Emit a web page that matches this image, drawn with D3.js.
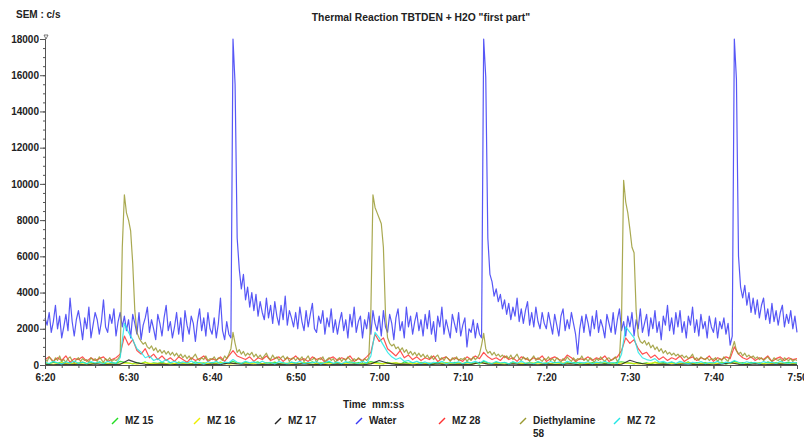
<!DOCTYPE html>
<html><head><meta charset="utf-8">
<script src="https://cdn.jsdelivr.net/npm/d3@7/dist/d3.min.js"></script>
<style>
body{margin:0;background:#fff}
svg{display:block}
text{font-family:"Liberation Sans",Arial,sans-serif;font-weight:bold;fill:#222}
</style></head>
<body><svg id="chart" width="804" height="438"></svg>
<script>
// time range in seconds (6:20 .. 7:50)
const tStart = 380, tEnd = 470;
const xTickValues = [380, 390, 400, 410, 420, 430, 440, 450, 460, 470];
const yTickValues = [0, 2000, 4000, 6000, 8000, 10000, 12000, 14000, 16000, 18000];
const seriesNames = ["MZ 15", "MZ 16", "MZ 17", "Water", "MZ 28", "Diethylamine\n58", "MZ 72"];

// SEM c/s, sampled evenly over the time range
const water = [
2600,2200,2900,1800,2400,3300,2000,2700,1500,2100,2800,1900,3700,2400,1600,2500,3000,2300,1400,2600,
2000,3200,1500,2200,2900,2500,1700,2400,3600,2100,1800,2800,2300,3100,1600,2400,2900,2100,2700,1900,
2500,1500,2800,2300,1700,2900,1400,2200,2600,3200,1800,2500,2000,1400,2800,2300,1600,2600,3300,1900,
2400,1500,2100,2900,1700,2600,1300,3000,2200,1700,2700,2300,1300,2400,3100,1900,2600,1600,2900,2000,
1700,2600,1500,2300,3700,1900,1400,2400,1700,1500,18000,15500,7000,5300,4200,5000,3600,4300,3200,4000,
3000,3900,2700,3500,2900,2500,3700,2600,3300,2300,3500,2700,2200,3300,2500,3800,2200,3000,2600,2100,
2900,2000,3200,2400,1900,3000,2100,2800,3400,2000,1800,2700,2300,3000,1700,2600,2100,3100,1800,2500,
1700,2400,2900,1900,2500,1500,2800,2100,3200,1800,2400,2700,1500,2500,2000,2900,1700,3000,2300,1900,
2700,1600,3000,2100,1800,2800,2300,1400,2600,3100,1900,2400,1500,3200,2100,2700,1700,2400,2900,1900,
2500,1600,2800,2000,3000,1700,2400,1300,2700,2100,3200,1700,2500,2000,1500,2800,2300,1800,2900,1600,
2200,2600,1000,2000,1800,2500,1500,2300,1700,1500,18000,15900,7000,5000,4600,3800,4200,3500,3900,3100,
3600,2800,3400,2500,3200,2700,3700,2400,3100,2300,3000,3500,2200,2900,2100,3200,2400,2000,2900,2300,
2000,2900,2300,1700,2800,2200,1600,2700,3100,1900,2500,2000,2900,2300,1700,600,2000,2700,1800,2800,
2300,1600,2700,2000,3000,1800,2500,2100,1500,2800,2300,1800,2900,1700,2500,3100,1900,2400,1600,2700,
2100,2900,1600,2500,2000,3100,1800,2300,2800,1600,2600,2000,3000,1800,2400,1400,2700,2200,3300,1900,
2600,1700,2900,2100,3000,1800,2400,1500,2700,2200,3200,1800,2500,1600,2800,2000,2400,1500,2700,2100,
1800,2600,1500,2400,2000,2600,1700,2300,1100,1600,18000,15800,6000,4300,3700,4400,3300,4000,2900,3700,
2800,3600,2600,3300,3700,2500,3100,2300,3400,2400,3000,2200,2900,3300,2100,2800,2300,3000,2000,2700,
1800];

const diethylamine = [
350,200,450,300,150,400,250,500,200,300,150,350,450,250,100,300,400,200,350,250,
300,150,400,250,350,200,450,300,150,350,250,400,200,300,250,350,500,6500,9400,8400,
8000,7400,5600,3000,1800,1500,1300,1150,1250,1000,900,1050,800,950,700,850,650,800,600,750,
550,700,500,650,450,600,400,550,350,500,300,450,600,350,250,400,300,500,250,350,
300,450,250,400,350,250,500,350,600,900,1800,1200,700,850,600,750,500,650,550,700,
450,600,400,550,350,500,650,400,300,550,350,450,250,400,500,300,450,200,350,400,
250,400,300,450,200,350,500,250,300,400,150,350,300,450,200,300,400,250,350,150,
300,400,200,350,250,450,300,200,350,250,400,300,150,350,250,400,3000,9400,8700,8400,
8100,7800,6500,2800,1500,1200,1050,1150,900,1000,800,950,700,850,600,750,550,700,500,650,
450,600,400,550,350,500,300,450,550,300,400,250,450,350,200,400,300,450,250,350,
300,400,200,350,250,450,300,400,600,1100,1750,900,650,750,550,700,500,600,450,550,
400,500,350,550,300,450,600,350,250,450,300,400,200,350,500,250,400,300,200,350,
300,450,250,350,200,400,300,150,350,250,450,300,200,400,250,350,300,500,250,350,
200,400,300,150,350,250,450,300,200,350,400,250,300,450,200,350,2500,10200,9000,8400,
7500,6500,6200,3000,1600,1300,1200,1350,1100,1250,950,1100,850,1000,750,900,650,800,600,700,
550,650,500,600,450,550,400,500,350,450,600,300,400,250,450,350,300,400,250,350,
300,400,200,350,250,450,300,200,500,900,1300,800,600,700,500,650,450,550,400,500,
350,450,300,400,250,350,450,300,200,400,300,250,350,200,400,300,250,350,200,300,
250];

const mz28 = [
300,450,200,400,250,500,150,350,300,450,
200,400,250,350,450,200,300,400,600,1600,
1100,1400,800,600,900,400,600,300,500,250,
400,200,450,300,150,400,250,350,500,200,
350,250,450,200,500,800,500,400,300,450,
200,400,300,500,250,350,450,200,400,300,
500,250,350,200,450,300,400,150,350,450,
250,400,300,500,200,350,250,450,700,1700,
1300,1500,900,700,500,800,400,550,300,450,
250,400,300,500,200,350,450,250,400,300,
200,450,300,500,350,700,450,300,400,250,
500,300,400,200,450,350,250,400,300,500,
200,350,450,300,250,550,400,200,350,300,
450,250,400,300,500,200,350,450,800,1500,
1200,1400,900,600,700,400,550,300,450,250,
400,300,500,200,350,450,250,400,300,500,
200,400,300,450,350,1000,600,400,300,450,
250,400,300,500,200,350,450,250,400,300,
350];

const mz72 = [
150,80,200,120,60,180,100,220,90,150,
70,190,110,160,80,200,130,90,400,2300,
1800,1400,900,700,400,500,250,350,150,300,
120,200,80,170,100,220,90,150,60,180,
110,200,70,160,130,300,150,90,200,120,
170,80,210,100,150,60,190,120,80,160,
100,200,70,150,120,180,60,140,210,90,
160,70,190,110,140,80,200,100,500,1800,
1500,1100,700,450,300,400,200,250,120,200,
90,170,60,150,110,200,80,140,100,180,
70,160,120,200,90,250,140,80,190,110,
150,60,180,100,220,90,140,70,170,120,
80,190,110,160,60,200,130,90,150,100,
180,70,160,110,200,90,140,80,600,2100,
1800,1500,700,400,300,250,350,150,200,100,
170,80,200,120,60,150,100,190,80,140,
110,200,70,160,120,250,150,90,180,100,
140,70,190,110,160,80,200,120,90,150,
100];

const mz15 = [
120,60,150,90,180,70,130,40,110,160,
80,140,60,170,100,50,130,90,200,150,
110,60,140,80,170,50,120,90,150,70,
130,40,160,90,110,60,180,80,120,50,
140,90,160,70,120,200,100,60,150,80,
110,170,50,130,90,160,70,120,40,150,
100,60,140,80,180,50,120,90,160,70,
130,50,110,170,80,140,60,120,190,140,
100,60,150,80,120,40,170,90,130,60,
150,80,110,50,160,90,130,70,140,100,
60,170,80,120,50,200,110,70,150,90,
130,50,160,80,110,60,140,90,170,70,
120,40,150,100,60,130,80,170,90,110,
50,140,80,160,70,120,90,150,180,130,
100,60,140,80,120,50,160,90,130,70,
150,60,110,80,170,40,130,90,140,60,
120,80,160,50,110,200,90,130,70,150,
80,120,60,170,90,140,50,110,160,70,
120];

const mz16 = [
80,40,120,60,100,30,90,140,50,70,
110,40,130,60,90,50,120,80,40,100,
70,130,50,90,110,60,80,140,40,100,
70,120,50,90,60,110,80,130,40,100,
60,90,120,50,80,110,40,70,130,60,
90,50,120,80,100,40,110,70,130,60,
90,50,120,80,40,100,70,140,50,90,
110,60,80,130,40,100,70,120,50,90,
60,110,80,130,40,100,60,90,120,50,
80];

const mz17 = [
30,10,50,20,40,10,60,20,30,40,
280,120,40,20,50,10,30,20,40,10,
50,20,120,60,30,10,40,20,50,10,
30,60,20,40,10,50,20,30,10,60,
250,100,30,50,10,40,20,60,10,30,
40,20,150,50,30,10,60,20,40,10,
50,20,30,60,10,40,20,50,10,40,
260,110,40,20,50,10,30,60,20,40,
10,50,130,40,20,60,10,30,50,20,
30];

const seriesValues = [mz15, mz16, mz17, water, mz28, diethylamine, mz72];
const seriesColors = ["#22dd22", "#eeee00", "#222222", "#3a3af5", "#ff3232", "#9a9a32", "#22e6e6"];

const svg = d3.select("#chart");
const margin = {left: 45, right: 7, top: 39, bottom: 73};
const W = 804, H = 438;
const x = d3.scaleLinear().domain([tStart, tEnd]).range([margin.left, W - margin.right]);
const y = d3.scaleLinear().domain([0, 18000]).range([H - margin.bottom, margin.top]);

const fmtTime = t => Math.floor(t / 60) + ":" + String(Math.round(t % 60)).padStart(2, "0");

// series lines
seriesValues.forEach((vals, k) => {
  const n = vals.length;
  const line = d3.line()
    .x((d, i) => x(tStart + i * (tEnd - tStart) / (n - 1)))
    .y(d => y(d));
  svg.append("path")
    .datum(vals)
    .attr("d", line)
    .attr("fill", "none")
    .attr("stroke", seriesColors[k])
    .attr("stroke-width", 1.2)
    .attr("stroke-opacity", 0.85)
    .attr("stroke-linejoin", "round");
});

// axes
const axisColor = "#555";
const gy = svg.append("g").attr("transform", `translate(${margin.left},0)`);
gy.call(d3.axisLeft(y).tickValues(d3.range(0, 18001, 500)).tickSize(2).tickFormat(""));
gy.call(g => g.append("g").call(d3.axisLeft(y).tickValues(yTickValues).tickSize(5).tickFormat(d3.format("d"))));
gy.selectAll("path.domain").attr("stroke", axisColor);
gy.selectAll("line").attr("stroke", axisColor);
gy.selectAll("text").attr("font-size", 10).attr("x", -6).style("font-family", '"Liberation Sans",Arial,sans-serif').style("font-weight", "bold").attr("fill", "#222");

const gx = svg.append("g").attr("transform", `translate(0,${H - margin.bottom})`);
gx.call(d3.axisBottom(x).tickValues(d3.range(tStart, tEnd + 0.1, 2)).tickSize(3).tickFormat(""));
gx.call(g => g.append("g").call(d3.axisBottom(x).tickValues(xTickValues).tickSize(4).tickFormat(fmtTime)));
gx.selectAll("path.domain").attr("stroke", axisColor);
gx.selectAll("line").attr("stroke", axisColor);
gx.selectAll("text").attr("font-size", 10).attr("y", 9).style("font-family", '"Liberation Sans",Arial,sans-serif').style("font-weight", "bold").attr("fill", "#222");

// small marker at the top of the y axis
svg.append("path")
  .attr("d", `M${margin.left - 1},${margin.top - 4} L${margin.left + 3},${margin.top - 4} L${margin.left + 1},${margin.top} Z`)
  .attr("fill", "none").attr("stroke", axisColor).attr("stroke-width", 0.8);

// titles
svg.append("text").attr("x", 16).attr("y", 18).attr("font-size", 10).text("SEM : c/s");
svg.append("text").attr("x", 421).attr("y", 21).attr("font-size", 10.3).attr("text-anchor", "middle")
  .text('Thermal Reaction TBTDEN + H2O "first part"');
svg.append("text").attr("x", 343).attr("y", 408).attr("font-size", 10).text("Time");
svg.append("text").attr("x", 372).attr("y", 408).attr("font-size", 10).text("mm:ss");

// legend
const legendX = [125, 207, 288, 369, 452, 533, 627];
seriesNames.forEach((name, k) => {
  const lx = legendX[k];
  svg.append("line")
    .attr("x1", lx - 13).attr("y1", 424).attr("x2", lx - 7).attr("y2", 418)
    .attr("stroke", seriesColors[k]).attr("stroke-width", 1.5);
  const t = svg.append("text").attr("x", lx).attr("y", 424).attr("font-size", 10);
  name.split("\n").forEach((part, j) => {
    t.append("tspan").attr("x", lx).attr("dy", j === 0 ? 0 : 13).text(part);
  });
});
</script>
</body></html>
